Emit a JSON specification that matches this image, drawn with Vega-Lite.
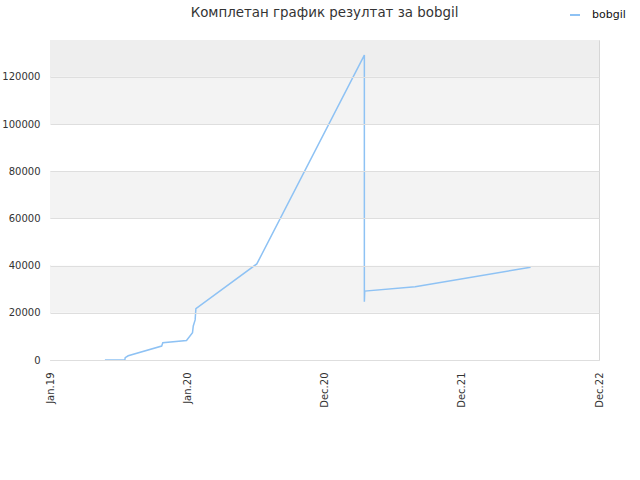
{
  "$schema": "https://vega.github.io/schema/vega-lite/v6.json",
  "width": 549,
  "height": 320,
  "autosize": "none",
  "padding": {"left": 50, "top": 40, "right": 41, "bottom": 120},
  "background": "white",
  "config": {
    "font": "DejaVu Sans",
    "view": {"stroke": "#d6d6d6", "strokeWidth": 1}
  },
  "title": {
    "text": "Комплетан график резултат за bobgil",
    "fontSize": 13.4,
    "fontWeight": "normal",
    "color": "#333333",
    "anchor": "middle",
    "frame": "group",
    "offset": 4,
    "dy": 14
  },
  "datasets": {
    "bands": [
      {"lo": 0, "hi": 20000, "band": "a"},
      {"lo": 20000, "hi": 40000, "band": "b"},
      {"lo": 40000, "hi": 60000, "band": "a"},
      {"lo": 60000, "hi": 80000, "band": "b"},
      {"lo": 80000, "hi": 100000, "band": "a"},
      {"lo": 100000, "hi": 120000, "band": "b"},
      {"lo": 120000, "hi": 135600, "band": "c"}
    ],
    "scores": [
      {"i": 1, "date": "2019-05-27", "value": 0, "player": "bobgil"},
      {"i": 2, "date": "2019-07-19", "value": 0, "player": "bobgil"},
      {"i": 3, "date": "2019-07-20", "value": 1000, "player": "bobgil"},
      {"i": 4, "date": "2019-07-28", "value": 1800, "player": "bobgil"},
      {"i": 5, "date": "2019-10-25", "value": 5900, "player": "bobgil"},
      {"i": 6, "date": "2019-10-28", "value": 7300, "player": "bobgil"},
      {"i": 7, "date": "2019-12-30", "value": 8300, "player": "bobgil"},
      {"i": 8, "date": "2020-01-15", "value": 11600, "player": "bobgil"},
      {"i": 9, "date": "2020-01-17", "value": 14400, "player": "bobgil"},
      {"i": 10, "date": "2020-01-22", "value": 17000, "player": "bobgil"},
      {"i": 11, "date": "2020-01-24", "value": 21800, "player": "bobgil"},
      {"i": 12, "date": "2020-07-04", "value": 40700, "player": "bobgil"},
      {"i": 13, "date": "2021-04-16", "value": 129200, "player": "bobgil"},
      {"i": 14, "date": "2021-04-16", "value": 24700, "player": "bobgil"},
      {"i": 15, "date": "2021-04-17", "value": 29200, "player": "bobgil"},
      {"i": 16, "date": "2021-08-29", "value": 31000, "player": "bobgil"},
      {"i": 17, "date": "2022-07-02", "value": 39300, "player": "bobgil"}
    ]
  },
  "layer": [
    {
      "data": {"name": "bands"},
      "mark": {"type": "rect", "strokeWidth": 0},
      "encoding": {
        "y": {
          "field": "lo", "type": "quantitative",
          "scale": {"domain": [0, 135600], "nice": false, "zero": true},
          "axis": {
            "title": null,
            "values": [0, 20000, 40000, 60000, 80000, 100000, 120000],
            "format": "d",
            "labelFontSize": 10,
            "labelColor": "#333333",
            "labelPadding": 10,
            "ticks": false,
            "domain": false,
            "grid": true,
            "gridColor": "#dedede",
            "gridWidth": 1,
            "zindex": 1
          }
        },
        "y2": {"field": "hi"},
        "fill": {"field": "band", "type": "nominal", "scale": {"domain": ["a", "b", "c"], "range": ["#ffffff", "#f3f3f3", "#eeeeee"]}, "legend": null}
      }
    },
    {
      "data": {"name": "scores"},
      "mark": {"type": "line", "strokeWidth": 1.5, "interpolate": "linear"},
      "encoding": {
        "x": {
          "field": "date", "type": "temporal",
          "scale": {"type": "utc", "domain": [{"year": 2019, "month": 1, "date": 1, "utc": true}, {"year": 2022, "month": 12, "date": 31, "utc": true}]},
          "axis": {
            "title": null,
            "values": [
              {"year": 2019, "month": 1, "date": 1, "utc": true},
              {"year": 2020, "month": 1, "date": 1, "utc": true},
              {"year": 2020, "month": 12, "date": 31, "utc": true},
              {"year": 2021, "month": 12, "date": 31, "utc": true},
              {"year": 2022, "month": 12, "date": 31, "utc": true}
            ],
            "format": "%b.%y",
            "labelAngle": -90,
            "labelFontSize": 10,
            "labelColor": "#333333",
            "labelPadding": 12,
            "ticks": false,
            "domain": false,
            "grid": false
          }
        },
        "y": {
          "field": "value", "type": "quantitative",
          "scale": {"domain": [0, 135600], "nice": false, "zero": true},
          "axis": {
            "title": null,
            "values": [0, 20000, 40000, 60000, 80000, 100000, 120000],
            "format": "d",
            "labelFontSize": 10,
            "labelColor": "#333333",
            "labelPadding": 10,
            "ticks": false,
            "domain": false,
            "grid": true,
            "gridColor": "#dedede",
            "gridWidth": 1,
            "zindex": 1
          }
        },
        "order": {"field": "i", "type": "quantitative"},
        "stroke": {
          "field": "player", "type": "nominal",
          "scale": {"range": ["#8ec2f4"]},
          "legend": {
            "title": null,
            "orient": "none",
            "legendX": 519,
            "legendY": -31,
            "symbolType": "stroke",
            "symbolSize": 100,
            "symbolStrokeWidth": 2,
            "labelOffset": 11,
            "labelFontSize": 11,
            "labelColor": "#111111"
          }
        }
      }
    }
  ]
}
